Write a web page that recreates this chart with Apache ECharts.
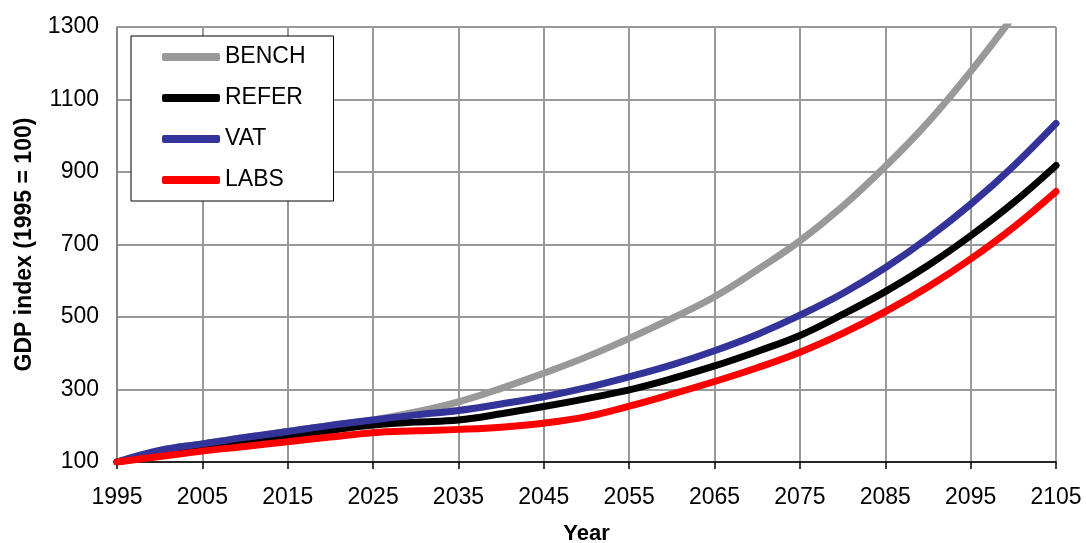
<!DOCTYPE html>
<html>
<head>
<meta charset="utf-8">
<script src="https://cdn.jsdelivr.net/npm/echarts@6/dist/echarts.min.js"></script>
<style>
html,body{margin:0;padding:0;background:#fff;}
#chart{width:1086px;height:543px;}
</style>
</head>
<body>
<div id="chart"></div>
<script>
const years = ['1995','2000','2005','2010','2015','2020','2025','2030','2035','2040','2045','2050','2055','2060','2065','2070','2075','2080','2085','2090','2095','2100','2105'];
const bench = [100,132,150,168,184,201,216,238,266,303,345,390,441,496,556,630,710,805,915,1037,1177,1330,1495];
const refer = [100,120,138,155,170,187,202,210,216,233,253,275,299,330,365,405,449,507,570,642,724,815,918];
const vat   = [100,132,150,168,184,201,216,230,242,260,280,305,335,368,407,452,505,565,636,718,811,916,1034];
const labs  = [100,115,130,143,156,169,181,186,190,196,207,225,254,287,322,360,403,455,515,583,660,747,846];
const yTicks = [100,300,500,700,900,1100,1300];

const chart = echarts.init(document.getElementById('chart'));
const font = 'Liberation Sans, Arial, sans-serif';
function mk(name, data, color) {
  return {
    name: name, type: 'line', data: data, smooth: 0.4,
    symbol: 'none', clip: true,
    lineStyle: { width: 7, color: color, cap: 'round' },
    itemStyle: { color: color }
  };
}
chart.setOption({
  animation: false,
  backgroundColor: '#fff',
  grid: { left: 117, right: 30, top: 27, bottom: 81, show: true, borderColor: '#000', borderWidth: 1,
          containLabel: false, outerBoundsMode: 'none' },
  legend: {
    orient: 'vertical', left: 131, top: 36,
    backgroundColor: '#fff', borderColor: '#000', borderWidth: 1,
    padding: [9, 28, 9, 31],
    itemWidth: 58, itemHeight: 8, itemGap: 17,
    icon: 'roundRect',
    textStyle: { fontFamily: font, fontSize: 23, color: '#000', lineHeight: 24 },
    data: ['BENCH', 'REFER', 'VAT', 'LABS']
  },
  xAxis: {
    type: 'category', data: years, boundaryGap: false,
    name: 'Year', nameLocation: 'middle', nameGap: 61,
    nameTextStyle: { fontFamily: font, fontSize: 22, fontWeight: 'bold', color: '#000' },
    axisLine: { lineStyle: { color: '#000', width: 1.5 } },
    axisTick: { show: true, interval: 1, length: 7, lineStyle: { color: '#000', width: 1.5 } },
    axisLabel: { interval: 1, margin: 24, fontFamily: font, fontSize: 23, color: '#000' },
    splitLine: { show: true, interval: 1, lineStyle: { color: '#999', width: 2 } }
  },
  yAxis: {
    type: 'value', min: 100, max: 1300,
    name: 'GDP index (1995 = 100)', nameLocation: 'middle', nameGap: 81, nameRotate: 90,
    nameTextStyle: { fontFamily: font, fontSize: 23, fontWeight: 'bold', color: '#000' },
    axisLine: { show: true, lineStyle: { color: '#808080', width: 1.5 } },
    axisTick: { show: false, customValues: yTicks },
    axisLabel: { customValues: yTicks, margin: 18, fontFamily: font, fontSize: 23, color: '#000',
                 formatter: function (v) { return String(v); } },
    splitLine: { show: true, lineStyle: { color: '#999', width: 2 } }
  },
  series: [
    mk('BENCH', bench, '#999999'),
    mk('REFER', refer, '#000000'),
    mk('VAT', vat, '#333399'),
    mk('LABS', labs, '#ff0000')
  ]
});
</script>
</body>
</html>
